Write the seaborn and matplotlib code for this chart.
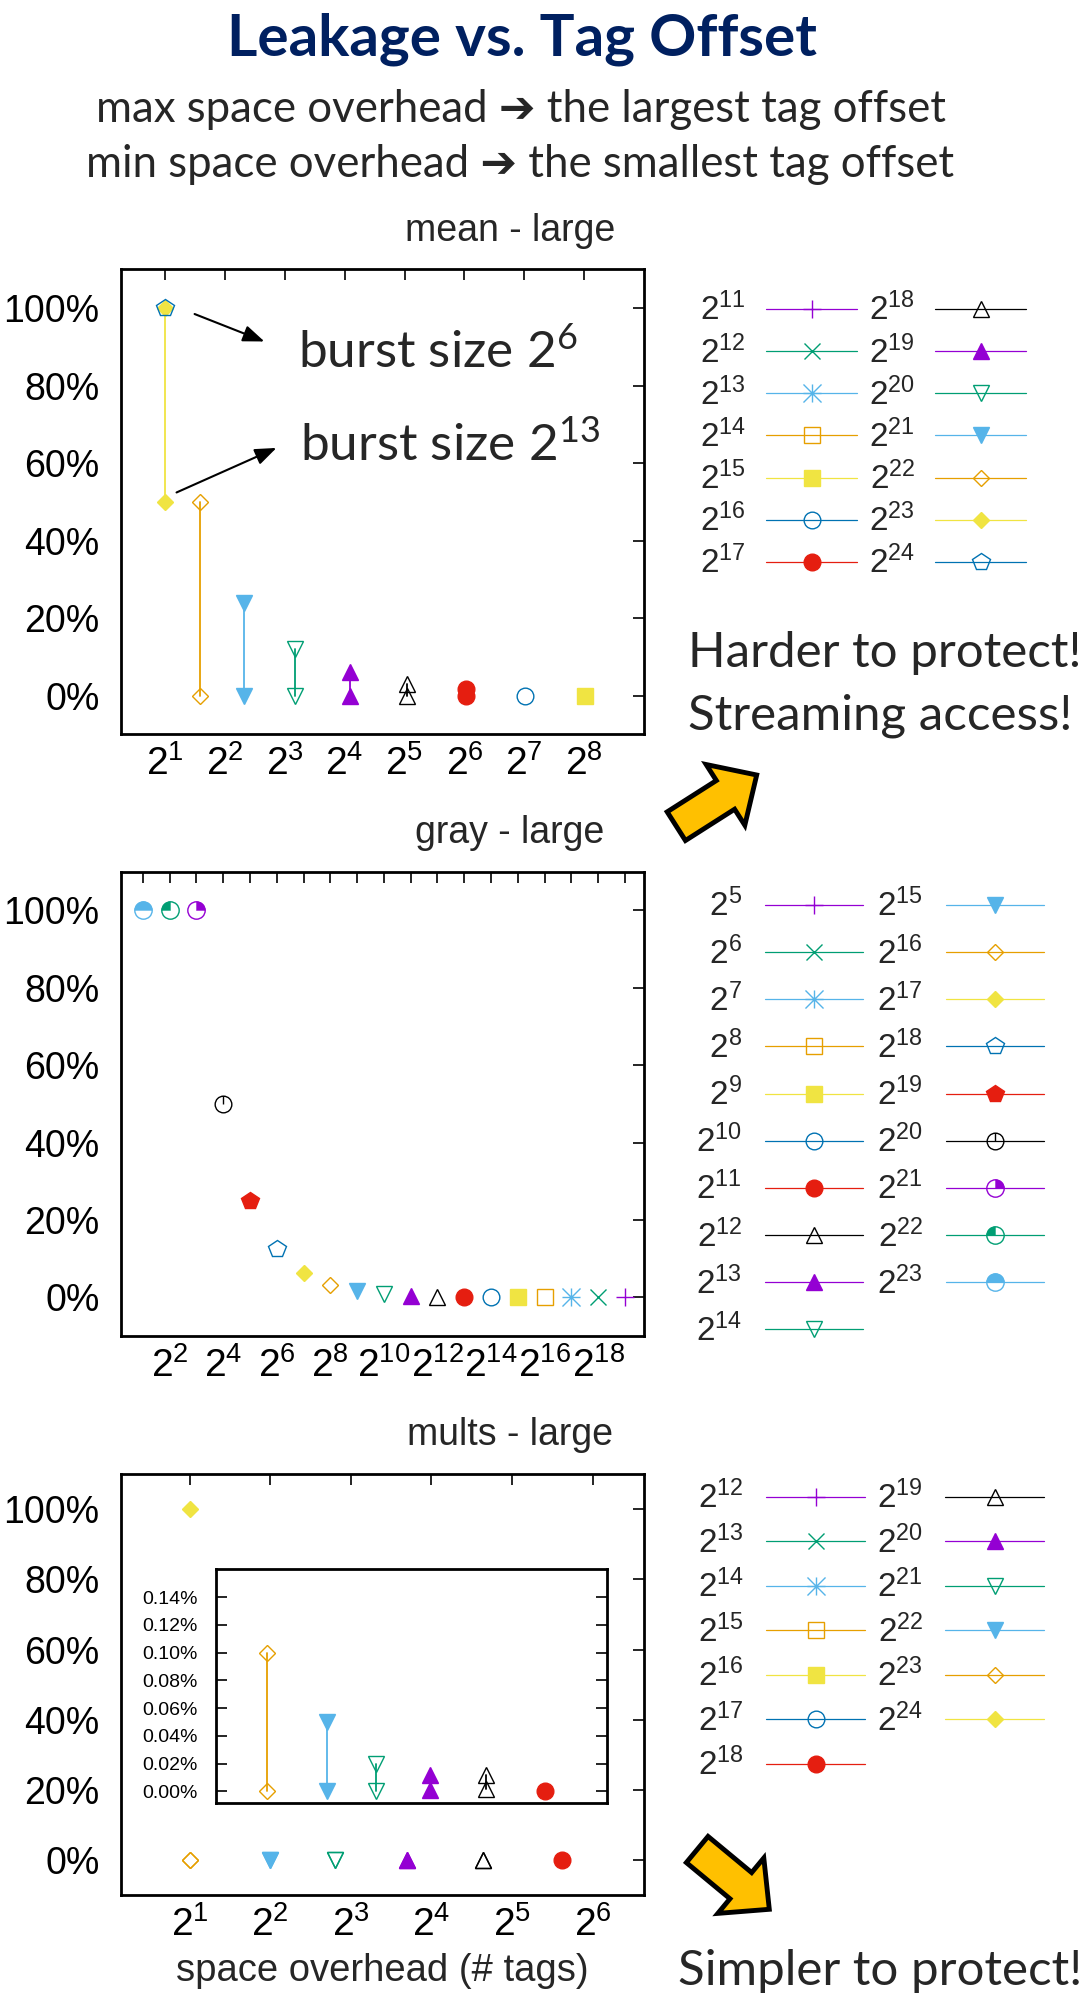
import numpy as np
import pandas as pd
import seaborn as sns
import matplotlib
matplotlib.use("Agg")
import matplotlib.pyplot as plt
from matplotlib.path import Path
from matplotlib.lines import Line2D
from matplotlib.patches import FancyArrow
from matplotlib.ticker import FixedLocator, NullLocator, FuncFormatter

W, H = 1085, 2000

# mean - large: tag offset exponent, space overhead (# tags), leakage min / max (%)
mean_legend = [11, 12, 13, 14, 15, 16, 17, 18, 19, 20, 21, 22, 23, 24]
mean_offset = [15, 16, 17, 18, 19, 20, 21, 22, 23, 24]
mean_tags = [257, 129, 65, 33, 17, 9, 5, 3, 2, 2]
mean_low = [0, 0, 0, 0, 0, 0, 0, 0, 50, 100]
mean_high = [0, 0, 1.7, 3.1, 6.2, 12, 24, 50, 100, 100]

# gray - large
gray_legend = [5, 6, 7, 8, 9, 10, 11, 12, 13, 14, 15, 16, 17, 18, 19, 20, 21, 22, 23]
gray_offset = [5, 6, 7, 8, 9, 10, 11, 12, 13, 14, 15, 16, 17, 18, 19, 20, 21, 22, 23]
gray_tags = [524288, 262144, 131072, 65536, 32768, 16384, 8192, 4096, 2048, 1024,
             512, 256, 128, 64, 32, 16, 8, 4, 2]
gray_leak = [0, 0, 0, 0, 0, 0, 0.1, 0.2, 0.4, 0.8, 1.6, 3.1, 6.3, 12.5, 25, 50, 100, 100, 100]

# mults - large
mults_legend = [12, 13, 14, 15, 16, 17, 18, 19, 20, 21, 22, 23, 24]
mults_offset = [18, 19, 20, 21, 22, 23, 24]
mults_tags = [49, 25, 13, 7, 4, 2, 2]
mults_low = [0, 0.002, 0.001, 0, 0, 0, 100]
mults_high = [0, 0.012, 0.012, 0.02, 0.05, 0.1, 100]

COLORS = ['#9400D3', '#009E73', '#56B4E9', '#E69F00', '#F0E442', '#0072B2', '#E51E10', '#000000']
SLIDE = ['Lato', 'DejaVu Sans']

ASTER = Path([(-1, 0), (1, 0), (0, -1), (0, 1), (-1, -1), (1, 1), (-1, 1), (1, -1)],
             [Path.MOVETO, Path.LINETO] * 4)
TICKCIRC = Path.make_compound_path(Path.unit_circle(), Path([(0, 0), (0, 1)]))
WEDGES = {17: Path.wedge(0, 90), 18: Path.wedge(90, 180), 19: Path.wedge(0, 180)}


def style(pt):
    c = COLORS[(pt - 1) % 8]
    table = {1: ('+', 13, c), 2: ('x', 12, c), 3: (ASTER, 13, 'none'),
             4: ('s', 11, 'none'), 5: ('s', 11, c), 6: ('o', 12, 'none'), 7: ('o', 12, c),
             8: ('^', 12, 'none'), 9: ('^', 12, c), 10: ('v', 12, 'none'), 11: ('v', 12, c),
             12: ('D', 8.5, 'none'), 13: ('D', 8.5, c), 14: ('p', 13, 'none'), 15: ('p', 13, c),
             16: (TICKCIRC, 12, 'none'), 17: ('o', 12.5, 'none'), 18: ('o', 12.5, 'none'),
             19: ('o', 12.5, 'none')}
    m, ms, fc = table[pt]
    kw = dict(color=c, marker=m, ms=ms, mfc=fc, mec=c, mew=1.0)
    over = None
    if pt in WEDGES:
        over = dict(color=c, marker=WEDGES[pt], ms=12.5, mfc=c, mec=c, mew=0.3)
    return kw, over


def draw(ax, offsets, first, tags, lows, highs):
    for k, x, lo, hi in zip(offsets, tags, lows, highs):
        ys = [lo] if lo == hi else [lo, hi]
        df = pd.DataFrame({'tags': [x] * len(ys), 'leak': ys})
        kw, over = style(k - first + 1)
        sns.lineplot(data=df, x='tags', y='leak', ax=ax, estimator=None, sort=False,
                     lw=1.3, **kw)
        if over:
            sns.lineplot(data=df, x='tags', y='leak', ax=ax, estimator=None, sort=False,
                         lw=0, **over)


def handles(exps):
    out = []
    for i, k in enumerate(exps):
        kw, over = style(i + 1)
        h = Line2D([], [], lw=0.9, **kw)
        if over:
            h = (h, Line2D([], [], lw=0, **over))
        out.append(h)
    return out


def frame(ax, lo, hi, ticks, labelled):
    ax.set_xscale('log', base=2)
    ax.set_xlim(2 ** lo, 2 ** hi)
    ax.set_ylim(-10, 110)
    ax.xaxis.set_major_locator(FixedLocator([2.0 ** e for e in ticks]))
    ax.xaxis.set_minor_locator(NullLocator())
    ax.xaxis.set_major_formatter(FuncFormatter(
        lambda v, p: '$2^{%d}$' % round(np.log2(v)) if round(np.log2(v)) in labelled else ''))
    ax.yaxis.set_major_locator(FixedLocator([0, 20, 40, 60, 80, 100]))
    ax.yaxis.set_major_formatter(FuncFormatter(lambda v, p: '%d%%' % round(v)))
    ax.tick_params(direction='in', top=True, right=True, length=8, width=1.2, colors='black')
    ax.tick_params(axis='y', labelsize=27, pad=15)
    ax.tick_params(axis='x', labelsize=28, pad=8)
    for s in ax.spines.values():
        s.set_visible(True)
        s.set_linewidth(2)
        s.set_color('black')
    ax.set_xlabel('')
    ax.set_ylabel('')
    ax.grid(False)


sns.set_theme(style='white')
plt.rcParams['font.family'] = ['Liberation Sans', 'DejaVu Sans']
plt.rcParams['mathtext.default'] = 'regular'

fig = plt.figure(figsize=(W / 100, H / 100), dpi=100)
fig.patch.set_facecolor('white')


def box(l, t, r, b):
    return fig.add_axes([l / W, 1 - b / H, (r - l) / W, (b - t) / H])


def fx(px):
    return px / W


def fy(py):
    return 1 - py / H


ax1 = box(120.5, 269.3, 644.2, 734.3)
ax2 = box(120.5, 871.8, 644.2, 1336)
ax3 = box(120.5, 1474, 644.2, 1895.4)
axin = box(215.6, 1569.3, 607.1, 1802.5)

# mean - large
ax1.set_xscale('log', base=2)
draw(ax1, mean_offset, mean_legend[0], mean_tags, mean_low, mean_high)
frame(ax1, 0.26, 9.0, range(1, 9), range(1, 9))

# gray - large
ax2.set_xscale('log', base=2)
draw(ax2, gray_offset, gray_legend[0], gray_tags, gray_leak, gray_leak)
frame(ax2, 0.165, 19.72, range(1, 20), range(2, 20, 2))

# mults - large, with zoomed inset
ax3.set_xscale('log', base=2)
draw(ax3, mults_offset, mults_legend[0], mults_tags, mults_low, mults_high)
frame(ax3, 0.14, 6.64, range(1, 7), range(1, 7))
ax3.set_xlabel('space overhead (# tags)', fontsize=27.5, labelpad=6)

axin.set_xscale('log', base=2)
draw(axin, mults_offset, mults_legend[0], mults_tags, mults_low, mults_high)
axin.set_xlim(2 ** 0.147, 2 ** 6.65)
axin.set_ylim(-0.008, 0.16)
axin.xaxis.set_major_locator(NullLocator())
axin.xaxis.set_minor_locator(NullLocator())
axin.yaxis.set_major_locator(FixedLocator([0, 0.02, 0.04, 0.06, 0.08, 0.10, 0.12, 0.14]))
axin.yaxis.set_major_formatter(FuncFormatter(lambda v, p: '%.2f%%' % v))
axin.tick_params(axis='y', direction='in', left=True, right=True, length=8, width=1.2,
                 labelsize=14, pad=13, colors='black')
for s in axin.spines.values():
    s.set_visible(True)
    s.set_linewidth(2)
    s.set_color('black')
axin.set_xlabel('')
axin.set_ylabel('')
axin.set_facecolor('white')

# panel titles
for name, base in [('mean - large', 241), ('gray - large', 843), ('mults - large', 1445)]:
    fig.text(fx(510), fy(base), name, ha='center', va='baseline', fontsize=27)

# legends
leg_specs = [
    (mean_legend, 700, 293, 2.73, 0.6, 0.36, 0.23),
    (gray_legend, 693, 889, 2.94, 0.69, 0.42, 0.38),
    (mults_legend, 698, 1481, 2.97, 0.66, 0.36, 0.30),
]
for exps, lx, ty, hl, tp, cs, ls in leg_specs:
    labels = [(r'$\enspace2^{%d}$' % k) if (k < 10 and exps[0] == 5) else ('$2^{%d}$' % k)
              for k in exps]
    fig.legend(handles(exps), labels, loc='upper left', bbox_to_anchor=(fx(lx), fy(ty)),
               ncol=2, frameon=False, markerfirst=False, fontsize=24, handlelength=hl,
               handletextpad=tp, columnspacing=cs, labelspacing=ls, borderpad=0,
               borderaxespad=0)

# burst size annotations
ax1.text(fx(298), fy(368), 'burst size $2^{6}$', transform=fig.transFigure,
         fontsize=37, family=SLIDE, va='baseline')
ax1.text(fx(300), fy(461.5), 'burst size $2^{13}$', transform=fig.transFigure,
         fontsize=37, family=SLIDE, va='baseline')
arrow_kw = dict(arrowstyle='-|>,head_length=0.65,head_width=0.25', color='black', lw=1.5,
                mutation_scale=20)
ax1.annotate('', xy=(fx(267), fy(342.5)), xycoords='figure fraction',
             xytext=(fx(192), fy(313)), textcoords='figure fraction', arrowprops=arrow_kw)
ax1.annotate('', xy=(fx(279), fy(446.8)), xycoords='figure fraction',
             xytext=(fx(174), fy(493.6)), textcoords='figure fraction', arrowprops=arrow_kw)

# slide text
fig.text(fx(522), fy(55), 'Leakage vs. Tag Offset', ha='center', va='baseline',
         fontsize=42, weight='bold', color='#002060', family=SLIDE)
fig.text(fx(521), fy(122), 'max space overhead \u2794 the largest tag offset', ha='center',
         va='baseline', fontsize=31.5, family=SLIDE)
fig.text(fx(520), fy(177), 'min space overhead \u2794 the smallest tag offset', ha='center',
         va='baseline', fontsize=31.5, family=SLIDE)
fig.text(fx(688), fy(667), 'Harder to protect!', va='baseline', fontsize=35.5, family=SLIDE)
fig.text(fx(688), fy(730), 'Streaming access!', va='baseline', fontsize=35.5, family=SLIDE)
fig.text(fx(678), fy(1985), 'Simpler to protect!', va='baseline', fontsize=35.5, family=SLIDE)

# block arrows
for tail, tip in [((676.3, 826.2), (756.7, 775)), ((697.2, 1849.5), (769.3, 1909.3))]:
    fig.add_artist(FancyArrow(tail[0] / 100, (H - tail[1]) / 100,
                              (tip[0] - tail[0]) / 100, (tail[1] - tip[1]) / 100,
                              width=0.34, head_width=0.72, head_length=0.37,
                              length_includes_head=True, fc='#FFC000', ec='black', lw=3.5,
                              joinstyle='miter', transform=fig.dpi_scale_trans))

fig.savefig('out.png', dpi=100, facecolor='white')
